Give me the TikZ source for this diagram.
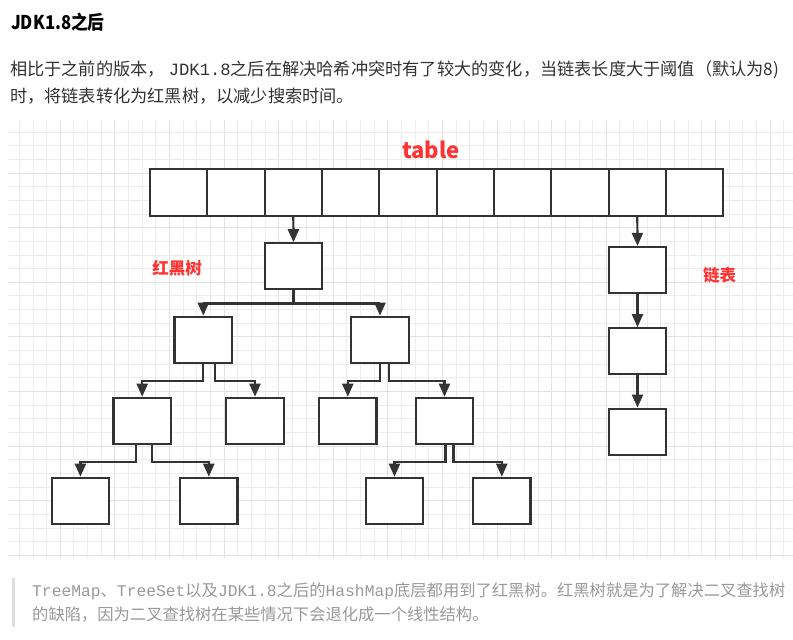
\documentclass[tikz,border=0pt]{standalone}
\usepackage{fontspec}
\setmainfont{Noto Sans CJK SC}
\newfontfamily\latinmono{Liberation Mono}
\newfontfamily\headfont[FakeStretch=0.88]{Noto Sans CJK SC}
\usetikzlibrary{arrows.meta,calc}
\definecolor{boxline}{HTML}{333333}
\definecolor{txt}{HTML}{333333}
\definecolor{quotetxt}{HTML}{999999}
\definecolor{quotebar}{HTML}{DDDDDD}
\definecolor{gridminor}{HTML}{EDEDED}
\definecolor{gridmajor}{HTML}{E2E2E2}
\definecolor{lab}{HTML}{FF3333}
\tikzset{
  cell/.style={draw=boxline, line width=2.2pt, fill=white, minimum width=57.33pt, minimum height=47pt, inner sep=0pt},
  nbox/.style={draw=boxline, line width=2.2pt, fill=white, minimum width=57.5pt, minimum height=46pt, inner sep=0pt},
  conn/.style={draw=boxline, line width=2.2pt, -{Triangle[length=13pt,width=11pt]}},
  redlab/.style={text=lab, font=\bfseries\fontsize{16.5}{20}\selectfont, inner sep=0pt},
  bodytxt/.style={text=txt, font=\fontsize{17.2}{20}\selectfont, anchor=west, inner sep=0pt},
  quotetext/.style={text=quotetxt, font=\fontsize{16.3}{20}\selectfont, anchor=west, inner sep=0pt},
}
\begin{document}
\begin{tikzpicture}[x=1pt,y=-1pt]
\useasboundingbox (0,0) rectangle (793,640);
\fill[white] (0,0) rectangle (793,640);
% heading and paragraph
\node[text=black, font=\headfont\bfseries\fontsize{19}{22}\selectfont, anchor=west, inner sep=0pt] (head) at (11,22) {JDK1.8之后};
\node[bodytxt] (p1) at (10,70) {相比于之前的版本， {\latinmono JDK1.8}之后在解决哈希冲突时有了较大的变化，当链表长度大于阈值（默认为8)};
\node[bodytxt] (p2) at (10,96) {时，将链表转化为红黑树，以减少搜索时间。};
% grid
\begin{scope}
\clip (8,120) rectangle (793,558);
\foreach \i in {0,...,60} {
  \draw[gridminor, line width=0.8pt] ({5.6+13.65*\i},120) -- ({5.6+13.65*\i},558);
}
\foreach \j in {0,...,34} {
  \draw[gridminor, line width=0.8pt] (8,{118.4+13.65*\j}) -- (793,{118.4+13.65*\j});
}
\foreach \i in {0,...,15} {
  \draw[gridmajor, line width=0.9pt] ({5.6+54.6*\i},120) -- ({5.6+54.6*\i},558);
}
\foreach \j in {0,...,9} {
  \draw[gridmajor, line width=0.9pt] (8,{118.4+54.6*\j}) -- (793,{118.4+54.6*\j});
}
\end{scope}
% table
\foreach \k in {0,...,9} {
  \node[cell] (c\k) at ({150+57.33*\k+28.665},192.5) {};
}
\node[text=lab, font=\bfseries\fontsize{22}{24}\selectfont, inner sep=0pt] (tlabel) at (431,150) {table};
% red-black tree
\node[nbox] (root) at (293.5,266.3) {};
\node[nbox] (L) at (203.3,339.7) {};
\node[nbox] (R) at (380,339.7) {};
\node[nbox] (LL) at (142.2,420.8) {};
\node[nbox] (LR) at (255,420.8) {};
\node[nbox] (RL) at (347.8,420.8) {};
\node[nbox] (RR) at (444.5,420.8) {};
\node[nbox] (LLL) at (80.4,500.8) {};
\node[nbox] (LLR) at (208.8,500.8) {};
\node[nbox] (RRL) at (394.5,500.8) {};
\node[nbox] (RRR) at (501.8,500.8) {};
\node[redlab] (rbt) at (177,268) {红黑树};
% linked list
\node[nbox] (n1) at (637.5,270) {};
\node[nbox] (n2) at (637.5,351.3) {};
\node[nbox] (n3) at (637.5,431.7) {};
\node[redlab] (ll) at (719.5,275) {链表};
% connectors
\draw[conn] (c2.south) -- (root.north);
\draw[conn] (root.south) -- ++(0,13) -| (L.north);
\draw[conn] (root.south) -- ++(0,13) -| (R.north);
\draw[conn] (L.south) -- ++(0,17.5) -| (LL.north);
\draw[conn] ([xshift=12pt]L.south) -- ++(0,17.5) -| (LR.north);
\draw[conn] ([xshift=-6pt]LL.south) -- ++(0,17) -| (LLL.north);
\draw[conn] ([xshift=9.5pt]LL.south) -- ++(0,17) -| (LLR.north);
\draw[conn] (R.south) -- ++(0,17.5) -| (RL.north);
\draw[conn] ([xshift=9pt]R.south) -- ++(0,17.5) -| (RR.north);
\draw[conn] ([xshift=1pt]RR.south) -- ++(0,17) -| (RRL.north);
\draw[conn] ([xshift=9pt]RR.south) -- ++(0,17) -| (RRR.north);
\draw[conn] (c8.south) -- (n1.north);
\draw[conn] (n1.south) -- (n2.north);
\draw[conn] (n2.south) -- (n3.north);
% quote
\fill[quotebar] (12,578) rectangle (15,627);
\node[quotetext] (q1) at (32,591) {{\latinmono TreeMap}、{\latinmono TreeSet}以及{\latinmono JDK1.8}之后的{\latinmono HashMap}底层都用到了红黑树。红黑树就是为了解决二叉查找树};
\node[quotetext] (q2) at (32,614) {的缺陷，因为二叉查找树在某些情况下会退化成一个线性结构。};
\end{tikzpicture}
\end{document}
